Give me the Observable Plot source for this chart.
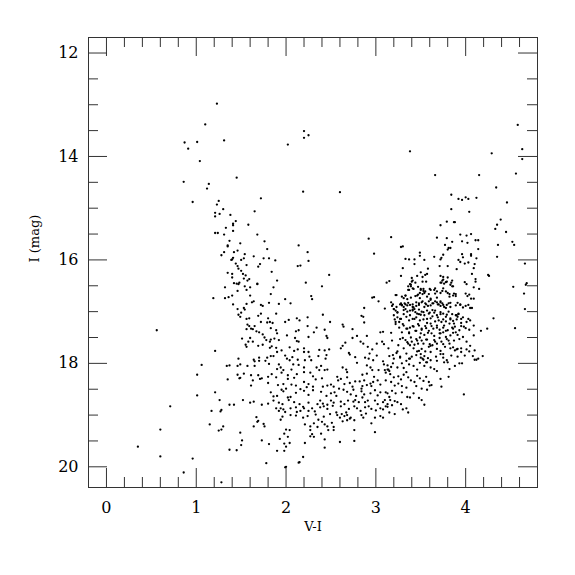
<!DOCTYPE html>
<html>
<head>
<meta charset="utf-8">
<script src="https://cdn.jsdelivr.net/npm/d3@7"></script>
<script src="https://cdn.jsdelivr.net/npm/@observablehq/plot@0.6"></script>
<style>
  html, body { margin: 0; padding: 0; background: #fff; }
  svg text { font-family: 'DejaVu Serif', serif !important; }
</style>
</head>
<body>
<div id="chart"></div>
<script>
// Tick values
const xMajorTicks = [0, 1, 2, 3, 4];
const xMinorTicks = [0.2, 0.4, 0.6, 0.8, 1.2, 1.4, 1.6, 1.8, 2.2, 2.4, 2.6, 2.8, 3.2, 3.4, 3.6, 3.8, 4.2, 4.4, 4.6];
const yMajorTicks = [12, 14, 16, 18, 20];
const yMinorTicks = [12.5, 13, 13.5, 14.5, 15, 15.5, 16.5, 17, 17.5, 18.5, 19, 19.5];

// Stars: [V-I, I]
const blueUpper = [[1.23,12.98],[1.10,13.38],[0.87,13.73],[1.01,13.72],[1.31,13.69],[0.91,13.85],[1.04,14.09],[1.45,14.41],[0.86,14.49],[1.14,14.53],[1.12,14.62],[0.96,14.88],[1.25,14.86],[1.23,14.93],[1.30,15.02],[1.21,15.09],[1.21,15.16],[1.26,15.11],[1.38,15.13],[1.44,15.25],[1.41,15.30],[1.41,15.33],[1.33,15.38],[1.41,15.44],[1.21,15.48],[1.24,15.48],[1.31,15.51],[1.37,15.63],[1.49,15.68],[1.35,15.72],[1.35,15.74],[1.42,15.85],[1.46,15.82],[1.31,15.85],[1.28,15.91],[1.41,15.96],[1.39,16.00],[1.40,15.99],[1.50,16.00],[1.44,16.07],[1.46,16.12],[1.47,16.17],[1.50,16.21],[1.35,16.25],[1.40,16.27],[1.40,16.34],[1.42,16.45],[1.45,16.46],[1.47,16.47],[1.48,16.44]];

const midUpper = [[2.20,13.51],[2.25,13.59],[2.20,13.64],[2.02,13.77],[2.19,14.68],[2.60,14.69],[1.72,14.81],[1.65,15.06],[1.58,15.32],[1.68,15.51],[1.76,15.64],[2.14,15.72],[1.79,15.79],[2.24,15.85],[1.54,15.89],[1.64,15.93],[1.53,15.97],[1.75,15.97],[1.81,15.97],[1.88,16.01],[2.25,16.02],[1.56,16.10],[1.71,16.08],[1.69,16.13],[2.13,16.12],[2.16,16.11],[1.84,16.23],[1.52,16.27],[1.55,16.30],[2.48,16.29],[2.92,15.59],[3.17,15.56],[2.98,15.88],[1.53,16.36],[1.57,16.40],[1.59,16.37],[1.68,16.46],[1.90,16.40],[2.22,16.44],[3.12,16.44]];

const redUpper = [[4.58,13.39],[4.63,13.86],[4.63,14.05],[3.38,13.90],[4.29,13.94],[3.66,14.36],[4.15,14.36],[4.56,14.33],[4.34,14.60],[3.84,14.74],[4.00,14.79],[4.03,14.82],[3.92,14.82],[3.96,14.84],[4.12,14.80],[4.46,14.89],[3.84,15.02],[4.04,15.07],[4.39,15.22],[3.79,15.26],[3.87,15.27],[3.88,15.27],[3.72,15.33],[4.35,15.32],[4.33,15.40],[4.45,15.46],[3.94,15.51],[4.06,15.50],[4.01,15.53],[3.68,15.57],[3.79,15.58],[4.11,15.62],[4.14,15.62],[3.96,15.64],[4.02,15.67],[3.85,15.65],[4.52,15.65],[4.54,15.71],[4.36,15.71],[3.28,15.75],[3.30,15.74],[3.77,15.71],[3.81,15.77],[3.83,15.77],[3.80,15.80],[4.14,15.79],[3.49,15.86],[3.49,15.92],[3.96,15.89],[4.06,15.89],[4.06,15.92],[3.75,15.90],[3.73,15.96],[3.72,15.99],[3.97,15.95],[3.92,16.00],[3.94,16.04],[3.99,16.07],[4.03,16.05],[4.12,15.97],[4.35,15.94],[3.33,15.98],[3.37,15.99],[3.43,15.99],[3.54,16.00],[3.65,15.94],[4.66,16.07],[3.43,16.08],[3.50,16.24],[3.58,16.17],[3.71,16.12],[3.80,16.12],[3.90,16.18],[4.10,16.08],[4.09,16.16],[3.30,16.16],[3.28,16.31],[3.40,16.35],[3.46,16.31],[3.52,16.33],[3.55,16.29],[3.57,16.27],[3.72,16.31],[3.75,16.33],[3.80,16.34],[3.74,16.40],[3.78,16.43],[3.85,16.40],[3.99,16.43],[4.07,16.27],[4.11,16.37],[4.25,16.29],[4.26,16.31],[3.40,16.42],[3.15,16.41],[4.68,16.45]];

const blueLower = [[1.32,16.53],[1.46,16.60],[1.19,16.74],[1.32,16.74],[1.36,16.72],[1.40,16.69],[1.41,16.86],[1.46,16.95],[0.56,17.36],[1.21,17.76],[1.06,18.03],[1.34,18.05],[1.37,18.04],[1.01,18.22],[1.46,18.22],[1.49,18.28],[1.48,18.29],[1.35,18.31],[1.21,18.56],[1.01,18.62],[1.26,18.71],[1.37,18.80],[1.42,18.80],[0.71,18.83],[1.17,18.92],[1.28,18.90],[1.27,18.93],[1.15,19.18],[1.30,19.22],[1.25,19.30],[1.28,19.28],[0.60,19.28],[1.49,19.34],[1.51,19.49],[1.50,19.58],[0.35,19.61],[1.37,19.67],[1.45,19.68],[0.60,19.80],[0.96,19.84],[0.86,20.11],[1.28,20.30]];

const bodyUpper = [[1.68,16.47],[2.40,16.51],[1.54,16.51],[1.60,16.53],[1.86,16.53],[1.56,16.58],[1.60,16.69],[1.83,16.66],[1.99,16.76],[2.28,16.70],[2.29,16.76],[2.96,16.73],[2.98,16.72],[1.64,16.80],[1.62,16.82],[1.56,16.85],[1.72,16.87],[1.74,16.89],[1.81,16.83],[1.92,16.85],[2.05,16.84],[3.03,16.80],[3.10,16.94],[1.53,16.93],[1.54,16.96],[1.50,17.02],[1.47,17.06],[1.49,17.10],[1.72,17.04],[1.69,17.08],[1.89,17.04],[2.41,17.06],[2.87,16.93],[2.84,17.08],[2.86,17.10],[1.59,17.13],[1.56,17.14],[1.80,17.13],[1.82,17.20],[1.79,17.21],[2.12,17.13],[2.15,17.17],[2.24,17.11],[2.03,17.16],[1.99,17.20],[1.72,17.20],[1.85,17.22],[2.87,17.21],[2.49,17.20],[1.57,17.25],[1.59,17.28],[1.61,17.33],[1.65,17.28],[1.56,17.34],[1.63,17.34],[1.67,17.38],[1.70,17.40],[1.74,17.44],[1.83,17.32],[1.89,17.36],[1.90,17.42],[2.01,17.46],[2.11,17.38],[2.14,17.36],[2.24,17.28],[2.34,17.31],[2.43,17.35],[2.63,17.25],[2.64,17.29],[2.74,17.34],[3.05,17.40],[3.08,17.39]];

const bodyMiddle = [[1.51,17.52],[1.60,17.51],[1.58,17.58],[1.63,17.58],[1.76,17.50],[1.78,17.55],[1.83,17.54],[1.82,17.58],[1.87,17.52],[1.92,17.55],[2.10,17.51],[2.14,17.58],[2.12,17.57],[2.25,17.49],[2.31,17.40],[2.45,17.47],[2.46,17.51],[2.79,17.47],[2.90,17.47],[2.74,17.51],[2.83,17.58],[2.86,17.62],[3.07,17.58],[3.09,17.63],[1.55,17.64],[1.56,17.68],[1.69,17.66],[1.74,17.64],[1.82,17.70],[1.84,17.67],[1.89,17.70],[1.95,17.75],[2.04,17.69],[2.09,17.76],[2.13,17.73],[2.20,17.71],[2.25,17.78],[2.20,17.78],[2.37,17.74],[2.43,17.75],[2.48,17.73],[2.66,17.60],[2.61,17.71],[2.63,17.66],[2.91,17.68],[2.96,17.73],[3.01,17.62],[3.14,17.71],[2.70,17.80],[2.71,17.83],[2.77,17.88],[2.88,17.89],[2.92,17.91],[2.97,17.94],[2.93,17.81],[3.01,17.85],[1.64,17.93],[1.70,17.89],[1.77,17.95],[1.79,17.89],[1.83,17.86],[1.86,17.86],[1.90,17.78],[1.99,17.85],[2.01,17.91],[2.04,17.94],[2.07,17.88],[2.13,17.93],[2.21,17.94],[2.26,17.87],[2.28,17.94],[2.36,17.86],[2.45,17.84],[2.44,17.91],[1.47,17.91],[1.46,18.05],[1.70,17.95],[1.49,18.02],[1.57,18.05],[1.65,18.05],[1.65,17.96],[1.81,18.01],[1.92,18.02],[1.90,18.11],[1.94,18.08],[1.97,18.13],[2.06,18.12],[2.08,18.02],[2.14,18.03],[2.20,18.08],[2.34,18.08],[2.37,18.13],[2.39,18.05],[2.43,18.13],[2.46,18.12],[2.63,18.08],[2.67,18.12],[2.68,18.17],[2.79,17.99],[2.90,18.04],[2.94,18.08],[2.96,18.13],[3.08,17.96],[3.09,18.02],[3.03,18.13],[3.10,18.13],[3.14,18.12],[1.53,18.20],[1.61,18.23],[1.69,18.23],[1.73,18.29],[1.80,18.26],[1.84,18.21],[2.02,18.23],[1.95,18.18],[2.12,18.21],[2.20,18.17],[2.27,18.18],[2.30,18.25],[2.33,18.31],[2.57,18.26],[2.58,18.33],[2.68,18.27],[2.85,18.22],[2.90,18.20],[2.98,18.26],[3.11,18.18]];

const bodyLower = [[1.63,18.33],[1.71,18.30],[1.89,18.27],[2.02,18.30],[2.09,18.28],[2.20,18.36],[2.25,18.40],[2.40,18.29],[2.46,18.43],[2.61,18.30],[2.65,18.40],[2.77,18.35],[2.71,18.38],[2.82,18.35],[2.87,18.33],[2.94,18.39],[2.97,18.36],[3.02,18.33],[3.05,18.41],[3.11,18.33],[1.61,18.43],[1.80,18.38],[1.91,18.42],[1.97,18.40],[2.06,18.41],[2.11,18.43],[2.23,18.46],[2.30,18.45],[2.41,18.45],[2.50,18.41],[2.53,18.45],[2.74,18.45],[2.85,18.44],[2.90,18.42],[2.95,18.44],[1.83,18.56],[1.86,18.64],[1.95,18.51],[1.97,18.54],[1.90,18.63],[2.00,18.49],[2.02,18.66],[2.05,18.65],[2.11,18.57],[2.16,18.50],[2.20,18.53],[2.25,18.61],[2.30,18.52],[2.39,18.55],[2.45,18.63],[2.50,18.58],[2.54,18.56],[2.56,18.63],[2.59,18.49],[2.64,18.51],[2.68,18.55],[2.72,18.60],[2.75,18.51],[2.78,18.63],[2.84,18.49],[2.84,18.54],[2.87,18.60],[2.94,18.58],[2.99,18.52],[3.02,18.62],[3.05,18.56],[3.11,18.56],[3.15,18.65],[3.16,18.71],[1.52,18.71],[1.60,18.76],[1.64,18.74],[1.73,18.80],[1.80,18.78],[1.86,18.72],[1.92,18.76],[1.96,18.79],[2.03,18.71],[2.09,18.75],[2.15,18.79],[2.25,18.76],[2.35,18.79],[2.38,18.72],[2.41,18.78],[2.46,18.80],[2.50,18.72],[2.53,18.76],[2.61,18.74],[2.65,18.79],[2.69,18.72],[2.75,18.74],[2.77,18.71],[2.81,18.75],[2.85,18.66],[2.88,18.75],[2.91,18.72],[2.99,18.72],[3.02,18.79],[3.08,18.75],[3.10,18.71],[3.13,18.79],[1.89,18.87],[1.94,18.87],[1.92,18.92],[1.97,18.89],[1.99,18.94],[2.05,18.87],[2.11,18.85],[2.12,18.94],[2.19,18.84],[2.25,18.92],[2.29,18.87],[2.32,18.93],[2.38,18.85],[2.42,18.83],[2.46,18.88],[2.52,18.82],[2.56,18.95],[2.61,18.83],[2.67,18.95],[2.70,18.88],[2.76,18.83],[2.79,18.87],[2.83,18.92],[2.88,18.85],[2.92,18.83],[2.95,18.88],[3.00,18.91],[3.05,18.87],[3.08,18.89],[3.11,18.83],[3.18,18.81],[2.20,18.87],[2.16,18.92],[1.96,19.03],[1.94,19.09],[2.05,19.00],[2.11,19.01],[2.19,19.05],[2.24,19.02],[2.33,18.99],[2.36,19.09],[2.42,19.03],[2.49,18.98],[2.57,19.00],[2.60,19.05],[2.62,18.98],[2.65,19.02],[2.68,19.00],[2.71,19.07],[2.72,19.05],[2.76,19.10],[2.84,19.00],[2.86,19.05],[2.89,18.97],[2.95,19.16],[2.99,19.05],[3.05,19.02],[3.08,19.05],[1.67,19.04],[1.69,19.11],[1.75,19.17],[1.76,19.22],[1.64,19.22],[2.21,19.18],[2.27,19.22],[2.31,19.16],[2.35,19.23],[2.40,19.13],[2.43,19.18],[2.46,19.22],[2.51,19.15],[2.53,19.23],[2.63,19.12],[2.68,19.10],[1.68,19.13],[2.27,19.29],[2.29,19.37],[2.31,19.42],[2.27,19.41],[2.39,19.36],[2.47,19.29],[2.53,19.29],[2.76,19.29],[2.99,19.33],[2.04,19.29],[2.00,19.28],[1.98,19.36],[2.02,19.42],[1.73,19.49],[1.81,19.56],[1.93,19.46],[1.98,19.55],[2.00,19.61],[2.21,19.54],[2.43,19.47],[2.60,19.52],[2.76,19.50],[1.90,19.69],[1.98,19.69],[2.04,19.54],[2.43,19.63],[2.19,19.81],[2.14,19.92],[2.15,19.91],[1.99,20.01],[2.00,20.00],[1.78,19.93]];

const redClumpTop = [[3.41,16.40],[3.39,16.48],[3.36,16.51],[3.52,16.42],[3.56,16.42],[3.73,16.44],[3.76,16.46],[3.84,16.44],[3.86,16.51],[4.01,16.47],[4.09,16.53],[4.11,16.42],[4.15,16.56],[4.53,16.52],[4.67,16.48],[4.65,16.65],[3.37,16.58],[3.42,16.56],[3.50,16.56],[3.53,16.60],[3.54,16.64],[3.60,16.56],[3.65,16.58],[3.66,16.65],[3.74,16.60],[3.80,16.64],[3.82,16.71],[3.87,16.65],[3.89,16.66],[4.00,16.65],[4.02,16.70],[4.04,16.67],[4.06,16.75],[4.09,16.75],[3.22,16.68],[3.29,16.71],[3.33,16.69],[3.35,16.76],[3.39,16.73],[3.44,16.70],[3.47,16.67],[3.49,16.74],[3.57,16.71],[3.61,16.75],[3.68,16.73],[3.72,16.80],[3.17,16.82],[3.19,16.86],[3.18,16.89],[3.28,16.84],[3.29,16.87],[3.31,16.91],[3.33,16.86],[3.36,16.83],[3.41,16.86],[3.42,16.92],[3.45,16.89],[3.48,16.84],[3.51,16.82],[3.54,16.91],[3.56,16.86],[3.59,16.80],[3.61,16.88],[3.64,16.84],[3.68,16.82],[3.70,16.86],[3.72,16.89],[3.74,16.84],[3.76,16.91],[3.79,16.87],[3.83,16.83],[3.91,16.83],[3.94,16.87],[4.00,16.89],[4.05,16.93],[4.07,16.93],[4.66,16.95]];

const redClumpMid = [[3.20,16.95],[3.22,16.98],[3.24,17.02],[3.31,16.97],[3.33,16.95],[3.38,16.98],[3.41,16.96],[3.44,17.01],[3.46,17.04],[3.48,16.96],[3.50,17.06],[3.53,17.01],[3.57,16.98],[3.59,17.04],[3.63,16.97],[3.65,17.02],[3.68,17.07],[3.72,17.01],[3.75,17.04],[3.78,17.10],[3.81,17.00],[3.85,17.05],[3.89,17.07],[3.91,17.10],[3.92,17.04],[3.97,17.11],[4.03,17.14],[4.05,17.17],[4.31,17.13],[4.24,17.33],[4.55,17.32],[3.24,17.11],[3.21,17.15],[3.28,17.14],[3.26,17.20],[3.34,17.10],[3.37,17.17],[3.41,17.14],[3.45,17.11],[3.49,17.17],[3.53,17.15],[3.57,17.22],[3.61,17.13],[3.66,17.19],[3.70,17.17],[3.73,17.20],[3.78,17.19],[3.83,17.15],[3.87,17.23],[3.90,17.15],[3.95,17.22],[4.01,17.20],[3.22,17.24],[3.31,17.27],[3.35,17.33],[3.38,17.31],[3.42,17.29],[3.48,17.27],[3.51,17.35],[3.56,17.32],[3.59,17.37],[3.62,17.28],[3.68,17.31],[3.71,17.35],[3.76,17.27],[3.80,17.36],[3.85,17.31],[3.88,17.29],[3.93,17.36],[3.98,17.29],[4.04,17.35],[4.09,17.27],[4.17,17.37],[3.17,17.41],[3.29,17.40],[3.37,17.42],[3.45,17.37],[3.50,17.42],[3.54,17.45],[3.62,17.42],[3.65,17.47],[3.71,17.42],[3.75,17.40],[3.78,17.49],[3.83,17.46],[3.86,17.41],[3.91,17.45],[3.97,17.49],[4.09,17.46]];

const redClumpLow = [[3.18,17.56],[3.27,17.53],[3.33,17.55],[3.36,17.62],[3.40,17.58],[3.45,17.53],[3.47,17.62],[3.51,17.56],[3.56,17.54],[3.60,17.63],[3.65,17.55],[3.68,17.62],[3.73,17.58],[3.79,17.53],[3.82,17.62],[3.87,17.56],[3.93,17.53],[4.01,17.58],[4.05,17.66],[3.25,17.65],[3.31,17.71],[3.38,17.65],[3.42,17.71],[3.48,17.76],[3.51,17.72],[3.55,17.77],[3.59,17.68],[3.63,17.65],[3.68,17.72],[3.72,17.76],[3.77,17.68],[3.83,17.71],[3.88,17.75],[3.91,17.72],[3.95,17.78],[4.01,17.73],[4.04,17.77],[4.10,17.75],[4.19,17.86],[4.08,17.86],[4.12,17.93],[3.15,17.86],[3.19,17.84],[3.23,17.80],[3.27,17.87],[3.34,17.81],[3.37,17.91],[3.40,17.87],[3.45,17.84],[3.50,17.89],[3.53,17.93],[3.54,17.86],[3.58,17.90],[3.61,17.94],[3.67,17.87],[3.72,17.82],[3.75,17.89],[3.79,17.94],[3.84,17.85],[3.91,17.87],[3.99,17.85],[4.10,17.93],[4.14,17.91],[3.13,18.04],[3.17,18.07],[3.19,18.00],[3.24,18.08],[3.29,18.00],[3.31,18.09],[3.34,18.17],[3.37,18.02],[3.42,18.05],[3.46,18.12],[3.49,17.99],[3.54,18.05],[3.57,17.98],[3.61,18.08],[3.65,18.11],[3.68,18.15],[3.76,17.98],[3.82,18.11],[3.88,18.05],[3.93,18.00],[3.96,18.00],[3.15,18.15],[3.13,18.12],[3.16,18.21],[3.20,18.27],[3.25,18.25],[3.28,18.31],[3.31,18.22],[3.36,18.27],[3.39,18.33],[3.43,18.36],[3.46,18.24],[3.49,18.29],[3.53,18.34],[3.56,18.26],[3.59,18.36],[3.62,18.42],[3.72,18.30],[3.73,18.45],[3.81,18.26],[3.17,18.36],[3.21,18.43],[3.25,18.39],[3.29,18.44],[3.34,18.47],[3.45,18.44],[3.51,18.49],[3.57,18.51],[3.60,18.43],[3.13,18.58],[3.18,18.53],[3.22,18.58],[3.29,18.56],[3.35,18.65],[3.38,18.66],[3.42,18.58],[3.48,18.67],[3.51,18.71],[3.54,18.80],[3.98,18.60],[3.21,18.73],[3.24,18.75],[3.28,18.79],[3.30,18.89],[3.34,18.87],[3.36,18.95],[3.15,18.95],[3.21,18.98],[3.13,18.84]];

const redClumpCore = [[3.38,16.47],[3.39,16.51],[3.41,16.55],[3.36,16.58],[3.44,16.44],[3.47,16.52],[3.50,16.58],[3.53,16.56],[3.55,16.61],[3.52,16.66],[3.49,16.64],[3.46,16.69],[3.33,16.69],[3.31,16.74],[3.23,16.68],[3.59,16.66],[3.61,16.58],[3.66,16.55],[3.68,16.61],[3.72,16.64],[3.75,16.55],[3.78,16.61],[3.82,16.66],[3.86,16.69],[3.89,16.70],[3.72,16.44],[3.75,16.38],[3.79,16.42],[3.83,16.48],[3.85,16.51],[3.27,16.86],[3.29,16.88],[3.32,16.84],[3.35,16.88],[3.38,16.87],[3.41,16.91],[3.43,16.95],[3.45,16.82],[3.48,16.87],[3.52,16.80],[3.55,16.84],[3.58,16.89],[3.61,16.77],[3.63,16.84],[3.66,16.80],[3.69,16.86],[3.72,16.82],[3.75,16.87],[3.78,16.93],[3.81,16.84],[3.83,16.91],[3.89,16.88],[3.94,16.86],[3.97,16.92],[4.03,16.87],[3.20,16.95],[3.23,16.91],[3.20,17.07],[3.24,17.01],[3.27,17.14],[3.31,17.05],[3.35,17.00],[3.38,17.07],[3.41,16.98],[3.43,17.14],[3.48,17.05],[3.51,17.00],[3.54,17.07],[3.57,17.14],[3.60,17.02],[3.63,17.09],[3.66,16.98],[3.69,17.11],[3.72,17.05],[3.75,17.15],[3.79,17.06],[3.83,17.13],[3.86,17.18],[3.90,17.07],[3.95,17.14],[3.92,17.05],[3.22,17.20],[3.26,17.31],[3.30,17.24],[3.34,17.33],[3.37,17.40],[3.41,17.28],[3.44,17.37],[3.47,17.24],[3.51,17.33],[3.55,17.28],[3.58,17.41],[3.61,17.23],[3.64,17.33],[3.68,17.27],[3.72,17.42],[3.75,17.31],[3.78,17.37],[3.82,17.23],[3.86,17.33],[3.89,17.40],[3.95,17.28],[4.00,17.32],[3.30,17.51],[3.35,17.59],[3.39,17.50],[3.43,17.64],[3.46,17.56],[3.49,17.50],[3.53,17.62],[3.57,17.54],[3.61,17.66],[3.66,17.58],[3.71,17.51],[3.75,17.63],[3.81,17.56],[3.86,17.69],[3.90,17.73],[3.95,17.71],[3.24,17.77],[3.20,17.91],[3.27,17.89],[3.34,17.95],[3.38,17.91],[3.46,17.77],[3.50,17.82],[3.52,17.91],[3.56,17.98],[3.61,17.78],[3.68,17.95],[3.75,17.82],[3.80,17.98]];

const groups = [blueUpper, midUpper, redUpper, blueLower, bodyUpper, bodyMiddle, bodyLower, redClumpTop, redClumpMid, redClumpLow, redClumpCore];
const stars = groups.flat().map(([vi, mag]) => ({vi, mag}));

const tickStroke = "#333";
const plotH = 575 - 37 - 88; // inner height
const plotW = 575 - 88 - 38; // inner width
const majorLen = 19, minorLen = 10;

const chart = Plot.plot({
  width: 575,
  height: 575,
  marginLeft: 88,
  marginRight: 38,
  marginTop: 37,
  marginBottom: 88,
  style: {fontFamily: "'DejaVu Serif', serif", fontSize: "16px", background: "#fff", color: "#000"},
  x: {domain: [-0.2, 4.8], ticks: xMajorTicks, tickFormat: "d", tickSize: 0, tickPadding: 14, label: null},
  y: {domain: [11.7, 20.4], reverse: true, ticks: yMajorTicks, tickFormat: "d", tickSize: 0, tickPadding: 10, label: null},
  marks: [
    Plot.frame({stroke: tickStroke}),
    Plot.tickX(xMajorTicks, {x: d => d, stroke: tickStroke, insetTop: plotH - majorLen}),
    Plot.tickX(xMinorTicks, {x: d => d, stroke: tickStroke, insetTop: plotH - minorLen}),
    Plot.tickX(xMajorTicks, {x: d => d, stroke: tickStroke, insetBottom: plotH - majorLen}),
    Plot.tickX(xMinorTicks, {x: d => d, stroke: tickStroke, insetBottom: plotH - minorLen}),
    Plot.tickY(yMajorTicks, {y: d => d, stroke: tickStroke, insetRight: plotW - majorLen}),
    Plot.tickY(yMinorTicks, {y: d => d, stroke: tickStroke, insetRight: plotW - minorLen}),
    Plot.tickY(yMajorTicks, {y: d => d, stroke: tickStroke, insetLeft: plotW - majorLen}),
    Plot.tickY(yMinorTicks, {y: d => d, stroke: tickStroke, insetLeft: plotW - minorLen}),
    Plot.dot(stars, {x: "vi", y: "mag", r: 1.15, fill: "#000", stroke: null}),
    Plot.text(["V-I"], {text: d => d, frameAnchor: "bottom", dy: 43, fontSize: 13, fill: "#000"}),
    Plot.text(["I (mag)"], {text: d => d, frameAnchor: "left", dx: -54, rotate: -90, fontSize: 13, fill: "#000"})
  ]
});
document.getElementById("chart").appendChild(chart);
</script>
</body>
</html>
